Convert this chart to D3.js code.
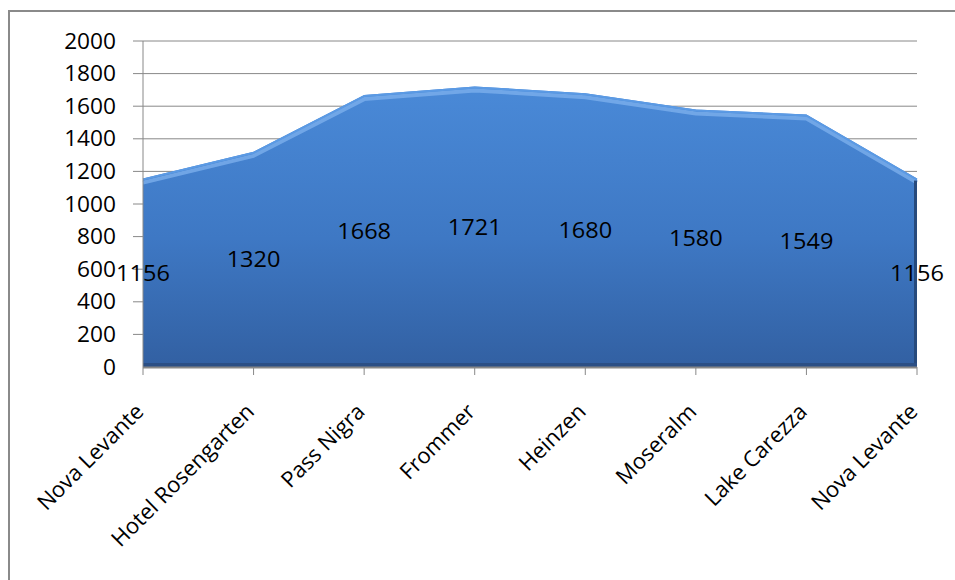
<!DOCTYPE html>
<html>
<head>
<meta charset="utf-8">
<script src="https://cdn.jsdelivr.net/npm/d3@7"></script>
<style>
  body { margin: 0; background: #fff; }
  text { font-family: "Open Sans", "Liberation Sans", sans-serif; fill: #000; }
</style>
</head>
<body>
<svg id="chart" width="955" height="580"></svg>
<script>
// data
const places = ['Nova Levante', 'Hotel Rosengarten', 'Pass Nigra', 'Frommer',
                'Heinzen', 'Moseralm', 'Lake Carezza', 'Nova Levante '];
const altitudes = [1156, 1320, 1668, 1721, 1680, 1580, 1549, 1156];
const yTicks = [0, 200, 400, 600, 800, 1000, 1200, 1400, 1600, 1800, 2000];

const svg = d3.select('#chart');
const plotLeft = 143, plotRight = 917, plotTop = 41, plotBottom = 367;

const x = d3.scalePoint().domain(places).range([plotLeft, plotRight]);
const y = d3.scaleLinear().domain([0, 2000]).range([plotBottom, plotTop]);

// outer frame
svg.append('path')
  .attr('d', 'M9,580 L9,11 L955,11')
  .attr('fill', 'none')
  .attr('stroke', '#8a8a8a')
  .attr('stroke-width', 2);

// gridlines + y ticks
svg.append('g')
  .selectAll('line')
  .data(yTicks.filter(d => d > 0))
  .join('line')
  .attr('x1', plotLeft - 10).attr('x2', plotRight)
  .attr('y1', d => y(d)).attr('y2', d => y(d))
  .attr('stroke', '#888').attr('stroke-width', 1);

svg.append('g')
  .selectAll('text')
  .data(yTicks)
  .join('text')
  .attr('transform', d => `translate(116,${y(d)}) scale(1.08,1)`)
  .attr('dy', '0.36em')
  .attr('text-anchor', 'end')
  .style('font-size', '21px')
  .text(d => d);

// area gradient
const defs = svg.append('defs');
const grad = defs.append('linearGradient')
  .attr('id', 'areaGrad')
  .attr('gradientUnits', 'userSpaceOnUse')
  .attr('x1', 0).attr('x2', 0)
  .attr('y1', y(1750)).attr('y2', y(0));
grad.append('stop').attr('offset', '0%').attr('stop-color', '#4a8ad8');
grad.append('stop').attr('offset', '55%').attr('stop-color', '#3e78c4');
grad.append('stop').attr('offset', '100%').attr('stop-color', '#3260a2');

const area = d3.area()
  .x((d, i) => x(places[i]))
  .y0(y(0))
  .y1(d => y(d));

const line = d3.line()
  .x((d, i) => x(places[i]))
  .y(d => y(d));

svg.append('path')
  .datum(altitudes)
  .attr('d', area)
  .attr('fill', 'url(#areaGrad)');

// bevel highlights
svg.append('path')
  .datum(altitudes)
  .attr('d', line)
  .attr('transform', 'translate(0,4)')
  .attr('fill', 'none')
  .attr('stroke', '#7fb2ee')
  .attr('stroke-width', 4)
  .attr('stroke-linejoin', 'round')
  .attr('opacity', 0.75);

svg.append('path')
  .datum(altitudes)
  .attr('d', line)
  .attr('transform', 'translate(0,1)')
  .attr('fill', 'none')
  .attr('stroke', '#5b9ae4')
  .attr('stroke-width', 2)
  .attr('stroke-linejoin', 'round');

// right shadow and bottom band
const last = altitudes.length - 1;
svg.append('line')
  .attr('x1', x(places[last]) - 1.5).attr('x2', x(places[last]) - 1.5)
  .attr('y1', y(altitudes[last]) + 2).attr('y2', y(0))
  .attr('stroke', '#274a7c').attr('stroke-width', 3);

svg.append('rect')
  .attr('x', plotLeft).attr('y', y(0) - 4)
  .attr('width', plotRight - plotLeft).attr('height', 4)
  .attr('fill', '#2b4f85');

// axes lines
svg.append('line')
  .attr('x1', plotLeft).attr('x2', plotLeft)
  .attr('y1', plotTop).attr('y2', plotBottom)
  .attr('stroke', '#888');
svg.append('line')
  .attr('x1', plotLeft).attr('x2', plotRight)
  .attr('y1', plotBottom + 0.5).attr('y2', plotBottom + 0.5)
  .attr('stroke', '#888').attr('stroke-width', 2);

svg.append('g')
  .selectAll('line')
  .data(places)
  .join('line')
  .attr('x1', d => x(d)).attr('x2', d => x(d))
  .attr('y1', plotBottom).attr('y2', plotBottom + 8)
  .attr('stroke', '#888');

// category labels
svg.append('g')
  .selectAll('text')
  .data(places)
  .join('text')
  .attr('text-anchor', 'end')
  .attr('transform', d => `translate(${x(d) + 2},${plotBottom + 46}) rotate(-45)`)
  .style('font-size', '22px')
  .text(d => d.trim());

// value labels at half height
svg.append('g')
  .selectAll('text')
  .data(altitudes)
  .join('text')
  .attr('transform', (d, i) => `translate(${x(places[i])},${y(d / 2)}) scale(1.07,1)`)
  .attr('dy', '0.36em')
  .attr('text-anchor', 'middle')
  .style('font-size', '22px')
  .text(d => d);
</script>
</body>
</html>
